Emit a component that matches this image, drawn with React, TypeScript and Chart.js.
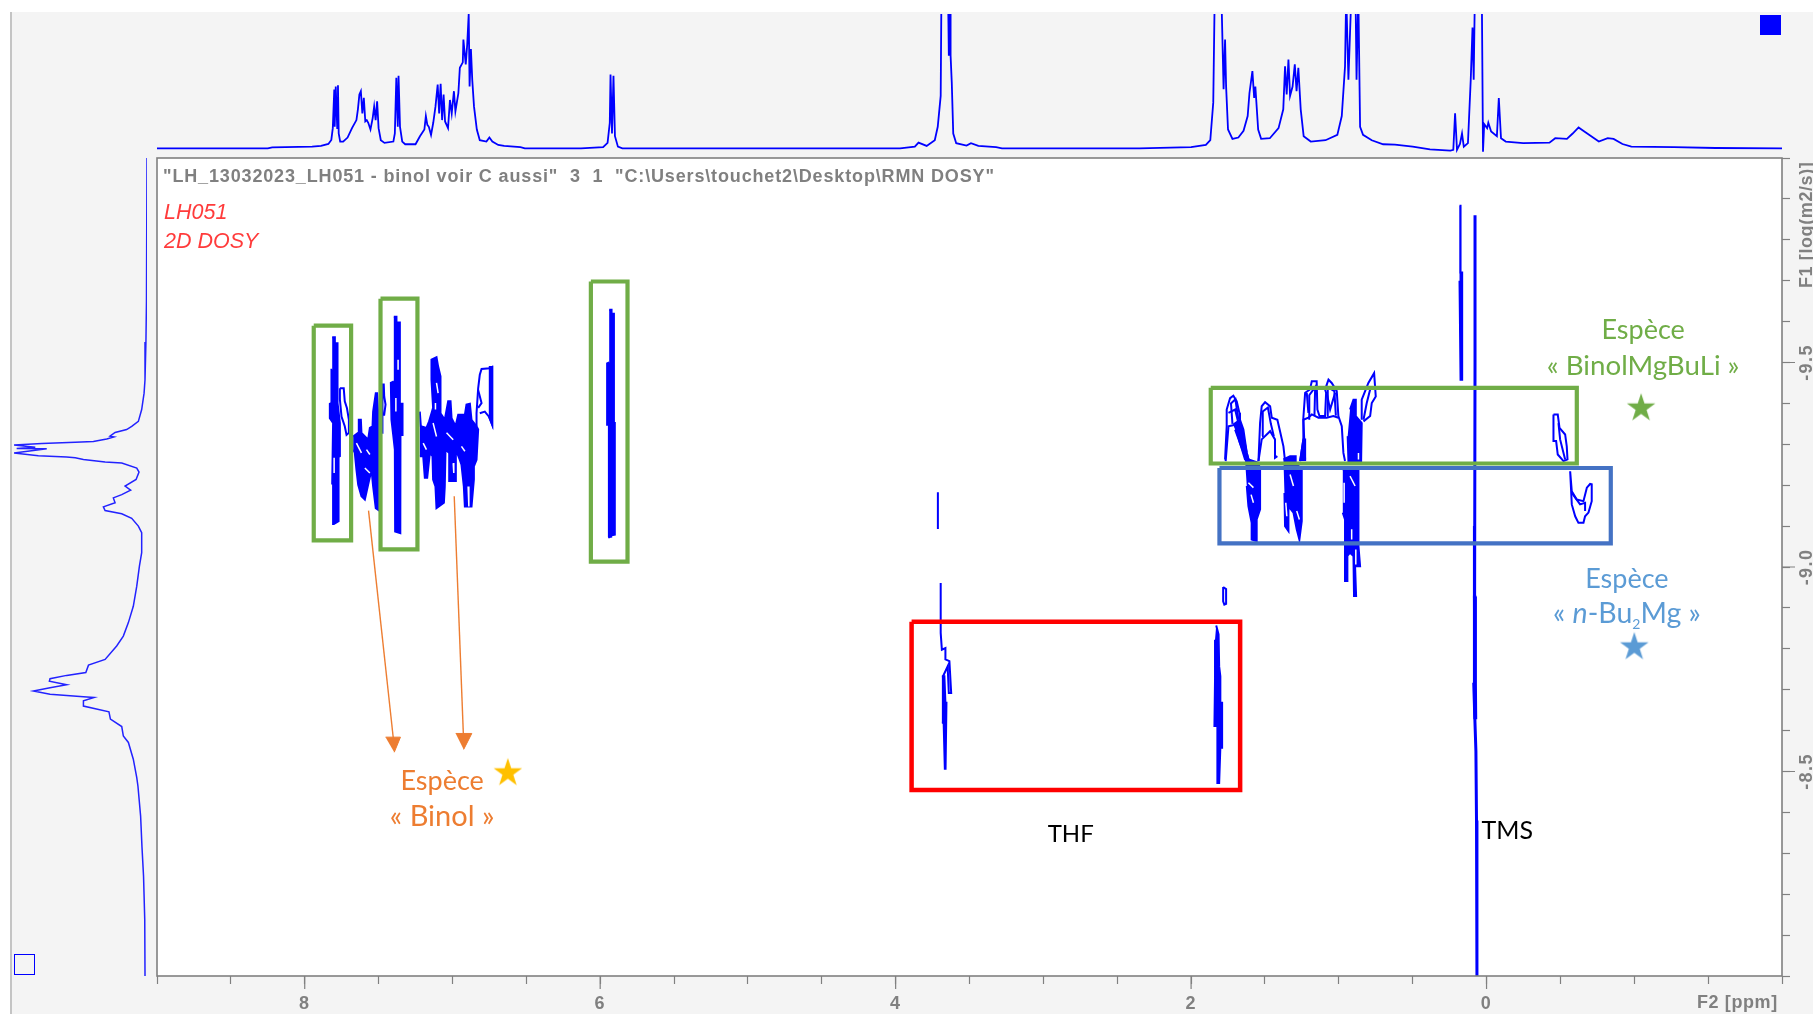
import React, { useEffect, useRef } from "react";
import { Chart, registerables } from "chart.js";

Chart.register(...registerables);

// ---- 1D projection along the top (F2, ppm / relative intensity) ----
const topPpm = [9.0,8.25,8.22,7.95,7.89,7.84,7.82,7.81,7.80,7.797,7.79,7.78,7.775,7.77,7.76,7.74,7.71,7.68,7.65,7.64,7.63,7.62,7.61,7.60,7.59,7.58,7.57,7.555,7.54,7.53,7.52,7.51,7.50,7.485,7.46,7.40,7.39,7.38,7.37,7.365,7.355,7.34,7.32,7.25,7.22,7.19,7.18,7.17,7.16,7.145,7.13,7.115,7.10,7.09,7.08,7.07,7.06,7.05,7.03,7.017,7.005,6.99,6.98,6.96,6.95,6.93,6.926,6.91,6.90,6.89,6.884,6.875,6.866,6.854,6.835,6.815,6.77,6.75,6.73,6.69,6.65,6.54,6.51,6.13,5.98,5.95,5.935,5.93,5.92,5.91,5.90,5.88,5.85,
3.97,3.87,3.845,3.79,3.735,3.715,3.695,3.69,3.645,3.64,3.63,3.628,3.62,3.61,3.59,3.52,3.49,3.44,3.32,3.28,2.35,2.00,1.90,1.87,1.85,1.84,1.795,1.78,1.77,1.763,1.75,1.72,1.68,1.645,1.617,1.605,1.585,1.573,1.565,1.546,1.526,1.467,1.408,1.376,1.364,1.353,1.341,1.33,1.313,1.298,1.286,1.274,1.258,1.238,1.19,1.09,1.01,0.98,0.958,0.95,0.935,0.915,0.887,0.88,0.868,0.856,0.836,0.777,0.70,0.62,0.50,0.383,0.245,0.225,0.213,0.20,0.18,0.166,0.154,0.126,0.107,0.095,0.087,0.079,0.044,0.032,0.024,0.016,-0.004,-0.012,-0.031,-0.07,-0.083,-0.098,-0.13,-0.248,-0.426,-0.465,-0.544,-0.583,-0.623,-0.662,-0.76,-0.82,-0.86,-0.92,-0.98,-1.27,-1.55,-2.0];
const topIntensity = [0,0,0.7,1.2,1.8,3.2,6.2,15,43.8,16,46,15,47,11,5,5,8,15,21,29,40,42.5,26,37.5,20,21,19,14,22.5,31,21,35,15,6,4,5,11,52.5,16,54,16,5,3,3,9,14,24,17.5,16,10,19,31,47.5,26,48,21,40,20,15,36,26,42.5,27.5,41,60,64,81,62.5,77.5,100,46,74,51,31,14,6,5,8,5,2.5,1.8,0.8,0,0,0.8,4,19,55,11,54,9,1.2,0,
0,1.2,4.2,1.8,6,16,39,115,115,69,115,69,49,11,3.8,2,3.8,1.8,0.8,0,0,0.8,2.5,6,34,115,115,44,81,46,14,7,8,13,24,41,57.5,37.5,46,14,7,7.5,15,29,61,40,66,39,46,62.5,42.5,60,29,9,5,6,10,24,61,115,51,115,115,51,115,16,10,6,3,2.8,1.2,-0.8,-1.8,-1.2,26,-1.2,3.2,11,1.2,3.8,51,90,51,115,115,115,-2.5,18,15,19,12.5,9,37.5,7.5,5,3.8,4.2,7.5,7,11,15.5,12.5,5,7.5,7,3.2,1.2,0.8,0.2,0];

// ---- 1D projection along the left (F1, log D / relative intensity) ----
const leftIntensity = [0,0.4,0.8,1.5,2.2,4,6.5,11.5,15.3,24,27.8,24.8,30.3,40.3,54,79,100,84,98,75.4,85.4,100,81.7,60.4,54,47.8,31.5,19,7.7,6,8.2,16.5,12.3,19,25.3,24,32.8,31.5,19,11.5,6.5,4,4,5.7,7.7,10.3,14,17.8,22.8,31.5,44,46,60.4,72.9,73.4,60.4,72.9,85.4,72.9,47.8,39.8,47.8,47.8,28.6,27.5,19,17.8,14,10.3,7.7,6.8,4.8,3.8,2.6,1.7,1.5];
const leftLogD = [-10,-9.65,-9.55,-9.458,-9.425,-9.385,-9.356,-9.344,-9.336,-9.329,-9.32,-9.318,-9.313,-9.307,-9.305,-9.302,-9.298,-9.293,-9.29,-9.289,-9.285,-9.279,-9.272,-9.269,-9.267,-9.263,-9.257,-9.254,-9.242,-9.232,-9.214,-9.198,-9.188,-9.177,-9.169,-9.157,-9.147,-9.138,-9.13,-9.119,-9.1,-9.084,-9.035,-9.002,-8.953,-8.904,-8.864,-8.831,-8.807,-8.774,-8.76,-8.742,-8.735,-8.727,-8.721,-8.712,-8.705,-8.697,-8.689,-8.683,-8.681,-8.673,-8.66,-8.646,-8.628,-8.61,-8.587,-8.571,-8.53,-8.485,-8.464,-8.391,-8.317,-8.244,-8.139,-8];

// ---- 2D contours, [ppm, log D] ----
const peak779 = [[7.814,-9.562],[7.796,-9.562],[7.796,-9.547],[7.778,-9.547],[7.778,-9.401],[7.762,-9.352],[7.762,-9.271],[7.771,-9.269],[7.771,-9.112],[7.803,-9.105],[7.808,-9.204],[7.814,-9.204],[7.808,-9.352],[7.83,-9.364],[7.83,-9.399],[7.819,-9.401],[7.819,-9.482],[7.814,-9.482]];
const peak760 = [[7.672,-9.319],[7.638,-9.328],[7.634,-9.36],[7.62,-9.36],[7.616,-9.328],[7.571,-9.311],[7.559,-9.34],[7.541,-9.344],[7.537,-9.38],[7.519,-9.425],[7.51,-9.425],[7.503,-9.376],[7.503,-9.14],[7.519,-9.144],[7.537,-9.197],[7.548,-9.238],[7.571,-9.201],[7.593,-9.165],[7.616,-9.173],[7.638,-9.201],[7.65,-9.238],[7.661,-9.279],[7.672,-9.287]];
const peak738 = [[7.397,-9.612],[7.379,-9.612],[7.379,-9.598],[7.356,-9.598],[7.356,-9.399],[7.338,-9.399],[7.338,-9.323],[7.352,-9.323],[7.352,-9.254],[7.354,-9.083],[7.388,-9.087],[7.39,-9.287],[7.401,-9.323],[7.413,-9.36],[7.417,-9.45],[7.397,-9.454]];
const peak700 = [[7.221,-9.38],[7.214,-9.344],[7.176,-9.34],[7.158,-9.356],[7.131,-9.389],[7.142,-9.458],[7.142,-9.507],[7.108,-9.513],[7.097,-9.49],[7.081,-9.466],[7.081,-9.376],[7.052,-9.36],[7.029,-9.405],[7.013,-9.405],[7.006,-9.364],[6.979,-9.344],[6.961,-9.372],[6.916,-9.372],[6.905,-9.397],[6.882,-9.399],[6.871,-9.36],[6.837,-9.344],[6.826,-9.336],[6.837,-9.262],[6.855,-9.246],[6.855,-9.214],[6.871,-9.148],[6.916,-9.148],[6.923,-9.197],[6.939,-9.25],[6.95,-9.262],[6.977,-9.287],[6.977,-9.21],[7.018,-9.21],[7.022,-9.279],[7.047,-9.287],[7.052,-9.197],[7.058,-9.157],[7.108,-9.144],[7.115,-9.197],[7.131,-9.214],[7.135,-9.271],[7.153,-9.279],[7.171,-9.218],[7.187,-9.218],[7.198,-9.271],[7.221,-9.271]];
const peak675 = [[6.754,-9.489],[6.731,-9.489],[6.731,-9.348],[6.754,-9.37]];
const peak592 = [[5.939,-9.629],[5.923,-9.629],[5.923,-9.619],[5.907,-9.619],[5.907,-9.352],[5.901,-9.352],[5.901,-9.079],[5.916,-9.078],[5.923,-9.222],[5.93,-9.222],[5.925,-9.074],[5.946,-9.073],[5.941,-9.348],[5.953,-9.348],[5.953,-9.498],[5.939,-9.5]];
const butylAUpper = [[1.714,-9.348],[1.669,-9.36],[1.646,-9.336],[1.623,-9.279],[1.605,-9.255],[1.635,-9.263],[1.669,-9.303],[1.702,-9.336]];
const butylALower = [[1.635,-9.263],[1.605,-9.262],[1.544,-9.255],[1.533,-9.238],[1.533,-9.141],[1.556,-9.116],[1.556,-9.063],[1.59,-9.067],[1.59,-9.108],[1.612,-9.149],[1.623,-9.198]];
const butylBLower = [[1.375,-9.263],[1.33,-9.271],[1.292,-9.271],[1.292,-9.255],[1.251,-9.238],[1.251,-9.112],[1.267,-9.067],[1.285,-9.092],[1.307,-9.133],[1.341,-9.149],[1.341,-9.088],[1.364,-9.1],[1.368,-9.181]];
const butylCStrip = [[1.262,-9.259],[1.24,-9.312],[1.228,-9.312],[1.228,-9.259]];
const butylDUpper = [[0.924,-9.385],[0.901,-9.409],[0.885,-9.409],[0.885,-9.369],[0.845,-9.352],[0.849,-9.259],[0.935,-9.259],[0.94,-9.32]];
const butylDLower = [[0.973,-9.238],[0.867,-9.238],[0.867,-9.051],[0.856,-9.002],[0.89,-9.002],[0.883,-8.929],[0.897,-8.929],[0.901,-9.027],[0.924,-9.035],[0.942,-9.027],[0.942,-8.966],[0.958,-8.966],[0.958,-9.116],[0.973,-9.133]];
const thf37Lower = [[3.687,-8.733],[3.67,-8.733],[3.663,-8.668],[3.656,-8.668],[3.662,-8.507],[3.667,-8.507],[3.675,-8.619],[3.687,-8.619]];
const thf18 = [[1.83,-8.857],[1.814,-8.835],[1.81,-8.757],[1.802,-8.733],[1.802,-8.668],[1.79,-8.668],[1.79,-8.558],[1.802,-8.558],[1.81,-8.472],[1.822,-8.472],[1.822,-8.611],[1.842,-8.611],[1.838,-8.725],[1.838,-8.822]];
const tmsUpper = [[0.183,-9.883],[0.176,-9.883],[0.176,-9.72],[0.165,-9.72],[0.165,-9.458],[0.176,-9.458],[0.183,-9.7]];
const tmsBroad = [[0.092,-8.928],[0.076,-8.928],[0.072,-8.717],[0.07,-8.63],[0.082,-8.63],[0.09,-8.717]];
const filledContours = [peak779,peak760,peak738,peak700,peak675,peak592,butylAUpper,butylALower,butylBLower,butylCStrip,butylDUpper,butylDLower,thf37Lower,thf18,tmsUpper,tmsBroad];

const loop779 = [[7.762,-9.437],[7.736,-9.437],[7.729,-9.405],[7.714,-9.388],[7.701,-9.36],[7.701,-9.328],[7.717,-9.323],[7.729,-9.344],[7.751,-9.368],[7.762,-9.41],[7.762,-9.437]];
const loop748 = [[7.476,-9.328],[7.474,-9.446],[7.465,-9.446],[7.462,-9.417],[7.453,-9.397],[7.462,-9.372],[7.476,-9.372]];
const loop680 = [[6.837,-9.344],[6.837,-9.376],[6.826,-9.437],[6.815,-9.47],[6.803,-9.484],[6.747,-9.486],[6.731,-9.489],[6.731,-9.348],[6.754,-9.368],[6.781,-9.38],[6.815,-9.376]];
const loop682 = [[6.826,-9.433],[6.803,-9.401],[6.826,-9.389]];
const butylAOuter = [[1.77,-9.263],[1.759,-9.344],[1.759,-9.385],[1.736,-9.413],[1.714,-9.419],[1.691,-9.405],[1.673,-9.377],[1.669,-9.344],[1.646,-9.32],[1.623,-9.279],[1.605,-9.255]];
const butylAInner = [[1.766,-9.259],[1.747,-9.344],[1.702,-9.348],[1.669,-9.303],[1.635,-9.271]];
const butylAInner2 = [[1.747,-9.377],[1.702,-9.385],[1.68,-9.352]];
const butylAInner3 = [[1.72,-9.35],[1.73,-9.40],[1.70,-9.41],[1.68,-9.36]];
const butylBOuter = [[1.544,-9.259],[1.533,-9.352],[1.522,-9.393],[1.499,-9.403],[1.465,-9.393],[1.454,-9.365],[1.416,-9.36],[1.398,-9.332],[1.375,-9.295],[1.364,-9.259]];
const butylBInner = [[1.544,-9.259],[1.522,-9.312],[1.465,-9.332],[1.432,-9.312],[1.432,-9.267],[1.416,-9.271]];
const butylBInner2 = [[1.52,-9.32],[1.515,-9.38],[1.48,-9.39],[1.46,-9.35],[1.44,-9.32]];
const butylCOuter = [[1.262,-9.259],[1.24,-9.312],[1.24,-9.365],[1.228,-9.426],[1.195,-9.434],[1.183,-9.454],[1.15,-9.454],[1.145,-9.385],[1.131,-9.369],[1.093,-9.369],[1.086,-9.426],[1.093,-9.434],[1.07,-9.458],[1.048,-9.45],[1.014,-9.43],[1.003,-9.369],[0.98,-9.344],[0.969,-9.279],[0.958,-9.259]];
const butylCInner = [[1.228,-9.263],[1.24,-9.36],[1.206,-9.365],[1.183,-9.373],[1.138,-9.365],[1.082,-9.365],[1.037,-9.369],[1.003,-9.365]];
const butylCLobe1 = [[1.217,-9.426],[1.206,-9.377]];
const butylCLobe2 = [[1.082,-9.426],[1.059,-9.385],[1.025,-9.426]];
const butylCLobe3 = [[1.2,-9.36],[1.2,-9.42],[1.16,-9.44],[1.165,-9.37]];
const butylCLobe4 = [[1.08,-9.37],[1.075,-9.44],[1.03,-9.43],[1.02,-9.37]];
const butylDOuter = [[0.845,-9.36],[0.845,-9.409],[0.822,-9.43],[0.8,-9.45],[0.761,-9.474],[0.75,-9.417],[0.777,-9.401],[0.788,-9.369],[0.833,-9.356]];
const butylDInner = [[0.833,-9.36],[0.811,-9.401],[0.788,-9.434]];
const methylA = [[-0.453,-9.373],[-0.482,-9.373],[-0.494,-9.34],[-0.532,-9.324],[-0.543,-9.295],[-0.548,-9.263],[-0.521,-9.259],[-0.482,-9.275],[-0.471,-9.308],[-0.453,-9.308],[-0.453,-9.373]];
const methylAInner = [[-0.487,-9.352],[-0.498,-9.312],[-0.532,-9.263]];
const methylB = [[-0.566,-9.234],[-0.577,-9.185],[-0.611,-9.165],[-0.656,-9.161],[-0.679,-9.194],[-0.701,-9.203],[-0.712,-9.202],[-0.712,-9.161],[-0.69,-9.133],[-0.667,-9.124],[-0.656,-9.108],[-0.622,-9.108],[-0.6,-9.124],[-0.577,-9.153],[-0.566,-9.234]];
const methylBInner = [[-0.577,-9.181],[-0.633,-9.153],[-0.667,-9.157],[-0.667,-9.137]];
const thf37Upper = [[3.695,-8.961],[3.695,-8.839],[3.687,-8.798],[3.663,-8.802],[3.663,-8.774],[3.636,-8.77],[3.624,-8.692],[3.64,-8.692],[3.648,-8.757],[3.679,-8.733]];
const thf37Isolated = [[3.714,-9.183],[3.714,-9.093]];
const thf18Loop = [[1.783,-8.951],[1.763,-8.946],[1.763,-8.91],[1.775,-8.908],[1.783,-8.916],[1.783,-8.951]];
const openContours = [loop779,loop748,loop680,loop682,butylAOuter,butylAInner,butylAInner2,butylAInner3,butylBOuter,butylBInner,butylBInner2,butylCOuter,butylCInner,butylCLobe1,butylCLobe2,butylCLobe3,butylCLobe4,butylDOuter,butylDInner,methylA,methylAInner,methylB,methylBInner,thf37Upper,thf37Isolated,thf18Loop];
const tmsLine = [[0.078,-9.86],[0.078,-9.5],[0.08,-9.1],[0.082,-8.96],[0.084,-8.84],[0.08,-8.66],[0.072,-8.55],[0.068,-8.38],[0.065,-8.0]];

const contourHoles = [
  [[7.65,-9.303],[7.616,-9.279]],[[7.582,-9.287],[7.559,-9.275]],[[7.593,-9.242],[7.559,-9.23]],
  [[7.198,-9.303],[7.176,-9.287]],[[7.131,-9.352],[7.108,-9.319]],[[7.04,-9.328],[6.995,-9.311]],
  [[6.939,-9.295],[6.916,-9.283]],[[6.995,-9.254],[6.991,-9.23]],[[6.894,-9.197],[6.889,-9.148]],
  [[7.108,-9.45],[7.097,-9.425]],[[7.115,-9.401],[7.115,-9.385]],[[7.368,-9.507],[7.368,-9.482]],
  [[7.383,-9.413],[7.383,-9.38]],[[7.801,-9.267],[7.801,-9.23]],
  [[1.612,-9.206],[1.578,-9.194]],[[1.594,-9.177],[1.578,-9.157]],[[1.33,-9.226],[1.307,-9.198]],
  [[1.359,-9.157],[1.352,-9.124]],[[1.285,-9.137],[1.267,-9.116]],[[0.964,-9.206],[0.964,-9.157]],
  [[0.924,-9.222],[0.89,-9.198]],[[0.913,-9.092],[0.913,-9.067]],[[0.885,-9.043],[0.885,-9.006]],
  [[0.867,-9.279],[0.867,-9.263]],
];

// ---- Annotation frames: [ppmLeft, ppmRight, logDTop, logDBottom] ----
const greenFrames = [[7.939,7.686,-9.59,-9.065],[7.487,7.237,-9.656,-9.043],[6.063,5.815,-9.698,-9.013],[1.867,-0.611,-9.438,-9.253]];
const blueFrames = [[1.808,-0.841,-9.242,-9.058]];
const redFrames = [[3.892,1.668,-8.866,-8.455]];

const arrowShafts = [[[7.568,-9.138],[7.394,-8.56]],[[6.988,-9.173],[6.924,-8.57]]];
const arrowHeads = [[[7.453,-8.584],[7.352,-8.584],[7.394,-8.547]],[[6.978,-8.593],[6.869,-8.593],[6.924,-8.554]]];

const goldStar = [[6.625,-8.5]];
const greenStar = [[-1.046,-9.392]];
const blueStar = [[-1.0,-8.808]];

const yLabels = ["-9.5", "-9.0", "-8.5"];
const xLabels = ["8", "6", "4", "2", "0"];

const BLUE = "#0000FF";
const GREY = "#808080";
const GREEN = "#70AD47";
const ORANGE = "#ED7D31";
const SKY = "#5B9BD5";
const UI_FONT = '"Liberation Sans", Arial, sans-serif';
const NOTE_FONT = 'Lato, "Noto Sans", sans-serif';

const pts = (pairs: number[][]) => pairs.map(([x, y]) => ({ x, y }));
const frame = ([l, r, t, b]: number[]) =>
  pts([[l, t], [r, t], [r, b], [l, b], [l, t]]);

function starCanvas(color: string, size: number) {
  const c = document.createElement("canvas");
  c.width = size;
  c.height = size;
  const g = c.getContext("2d")!;
  const R = size / 2;
  g.fillStyle = color;
  g.beginPath();
  for (let i = 0; i < 10; i++) {
    const r = i % 2 === 0 ? R : R * 0.382;
    const a = -Math.PI / 2 + (i * Math.PI) / 5;
    const px = R + r * Math.cos(a);
    const py = R + 1.5 + r * Math.sin(a);
    if (i === 0) g.moveTo(px, py);
    else g.lineTo(px, py);
  }
  g.closePath();
  g.fill();
  return c;
}

const lineSet = (data: any[], color: string, width: number, extra: any = {}) => ({
  data,
  showLine: true,
  borderColor: color,
  borderWidth: width,
  pointRadius: 0,
  tension: 0,
  fill: false,
  ...extra,
});

const drawNote = (
  chart: any,
  text: string,
  ppm: number,
  logD: number,
  color: string,
  size: number
) => {
  const g = chart.ctx;
  g.font = `${size}px ${NOTE_FONT}`;
  g.fillStyle = color;
  g.textAlign = "center";
  g.textBaseline = "middle";
  g.fillText(text, chart.scales.x.getPixelForValue(ppm), chart.scales.y.getPixelForValue(logD));
};

const frameAndTextPlugin = {
  id: "frameAndText",
  beforeDraw(chart: any) {
    chart.ctx.letterSpacing = "1.4px";
  },
  beforeDatasetsDraw(chart: any) {
    const g = chart.ctx;
    const a = chart.chartArea;
    g.letterSpacing = "0px";
    g.save();
    g.fillStyle = "#FFFFFF";
    g.fillRect(a.left, a.top, a.right - a.left, a.bottom - a.top);
    g.restore();
  },
  afterDraw(chart: any) {
    const g = chart.ctx;
    const a = chart.chartArea;
    const sx = chart.scales.x;
    const sy = chart.scales.y;
    g.save();
    g.strokeStyle = GREY;
    g.lineWidth = 1.6;
    g.strokeRect(a.left, a.top, a.right - a.left, a.bottom - a.top);
    // longer tick marks at the labelled values
    g.lineWidth = 1.2;
    g.beginPath();
    sx.ticks.forEach((t: any) => {
      if (t.label !== "") {
        const p = sx.getPixelForValue(t.value);
        g.moveTo(p, a.bottom);
        g.lineTo(p, a.bottom + 13);
      }
    });
    sy.ticks.forEach((t: any) => {
      if (t.label !== "") {
        const p = sy.getPixelForValue(t.value);
        g.moveTo(a.right, p);
        g.lineTo(a.right + 13, p);
      }
    });
    g.stroke();

    // axis titles
    g.fillStyle = GREY;
    g.font = `bold 18px ${UI_FONT}`;
    g.textBaseline = "middle";
    g.textAlign = "left";
    g.letterSpacing = "0.6px";
    g.fillText("F2 [ppm]", 1697, 1003);
    g.save();
    g.translate(1807, 288);
    g.rotate(-Math.PI / 2);
    g.fillText("F1 [log(m2/s)]", 0, 0);
    g.restore();

    // spectrum caption
    g.letterSpacing = "0.85px";
    g.font = `bold 18px ${UI_FONT}`;
    g.fillText('"LH_13032023_LH051 - binol voir C aussi"  3  1  "C:\\Users\\touchet2\\Desktop\\RMN DOSY"', 163, 177);
    g.letterSpacing = "0px";
    g.fillStyle = "#FF3B3B";
    g.font = `italic 21.5px ${UI_FONT}`;
    g.fillText("LH051", 164, 213);
    g.fillText("2D DOSY", 164, 242);

    // annotations
    drawNote(chart, "Espèce", 7.07, -8.476, ORANGE, 27);
    drawNote(chart, "« Binol »", 7.07, -8.39, ORANGE, 29);
    drawNote(chart, "THF", 2.815, -8.347, "#000000", 24);
    drawNote(chart, "TMS", -0.14, -8.354, "#000000", 25);
    drawNote(chart, "Espèce", -1.06, -9.579, GREEN, 27);
    drawNote(chart, "« BinolMgBuLi »", -1.06, -9.491, GREEN, 27.7);
    drawNote(chart, "Espèce", -0.95, -8.971, SKY, 27);

    // « n-Bu2Mg » with an italic n and a subscript 2
    const parts: [string, string, number][] = [
      ["« ", `28.5px ${NOTE_FONT}`, 0],
      ["n", `italic 28.5px ${NOTE_FONT}`, 0],
      ["-Bu", `28.5px ${NOTE_FONT}`, 0],
      ["2", `14px ${NOTE_FONT}`, 6],
      ["Mg »", `28.5px ${NOTE_FONT}`, 0],
    ];
    let total = 0;
    parts.forEach(([t, f]) => {
      g.font = f;
      total += g.measureText(t).width;
    });
    let cursor = sx.getPixelForValue(-0.95) - total / 2;
    const base = sy.getPixelForValue(-8.886);
    g.fillStyle = SKY;
    g.textAlign = "left";
    g.textBaseline = "alphabetic";
    parts.forEach(([t, f, dy]) => {
      g.font = f;
      g.fillText(t, cursor, base + 9 + dy);
      cursor += g.measureText(t).width;
    });
    g.restore();
  },
};

export default function App() {
  const mainRef = useRef<HTMLCanvasElement>(null);
  const topRef = useRef<HTMLCanvasElement>(null);
  const leftRef = useRef<HTMLCanvasElement>(null);

  useEffect(() => {
    const painted: any[] = [];
    filledContours.forEach((c) =>
      painted.push(lineSet(pts(c), BLUE, 2, { fill: "shape", backgroundColor: BLUE }))
    );
    openContours.forEach((c) => painted.push(lineSet(pts(c), BLUE, 2)));
    painted.push(lineSet(pts(tmsLine), BLUE, 3));
    contourHoles.forEach((c) => painted.push(lineSet(pts(c), "#FFFFFF", 1.5)));
    greenFrames.forEach((f) => painted.push(lineSet(frame(f), GREEN, 4.2)));
    blueFrames.forEach((f) => painted.push(lineSet(frame(f), "#4472C4", 4.2)));
    redFrames.forEach((f) => painted.push(lineSet(frame(f), "#FF0000", 4.5)));
    arrowShafts.forEach((c) => painted.push(lineSet(pts(c), ORANGE, 1.4)));
    arrowHeads.forEach((c) =>
      painted.push(lineSet(pts(c), ORANGE, 1, { fill: "shape", backgroundColor: ORANGE }))
    );
    const star = (data: number[][], color: string) => ({
      data: pts(data),
      showLine: false,
      pointStyle: starCanvas(color, 30),
      pointRadius: 15,
    });
    painted.push(star(goldStar, "#FFC000"));
    painted.push(star(greenStar, GREEN));
    painted.push(star(blueStar, SKY));

    const main = new Chart(mainRef.current!, {
      type: "scatter",
      data: { datasets: painted.reverse() },
      plugins: [frameAndTextPlugin],
      options: {
        animation: false,
        responsive: false,
        events: [],
        layout: { padding: { left: 157, top: 158, right: 0, bottom: 0 } },
        plugins: { legend: { display: false }, tooltip: { enabled: false } },
        scales: {
          x: {
            type: "linear",
            position: "bottom",
            reverse: true,
            min: -2,
            max: 9,
            afterFit: (s: any) => {
              s.height = 38;
            },
            border: { display: false },
            grid: { drawOnChartArea: false, drawTicks: true, tickLength: 8, tickColor: GREY, tickWidth: 1.2 },
            ticks: {
              stepSize: 0.5,
              autoSkip: false,
              maxRotation: 0,
              padding: 9,
              color: GREY,
              font: { family: UI_FONT, weight: "bold", size: 18 },
              callback: (v: any) => (xLabels.includes(String(v)) ? String(v) : ""),
            },
          },
          y: {
            type: "linear",
            position: "right",
            reverse: true,
            min: -10,
            max: -8,
            afterFit: (s: any) => {
              s.width = 31;
            },
            border: { display: false },
            grid: { drawOnChartArea: false, drawTicks: true, tickLength: 8, tickColor: GREY, tickWidth: 1.2 },
            ticks: {
              stepSize: 0.1,
              autoSkip: false,
              minRotation: 90,
              maxRotation: 90,
              crossAlign: "center",
              padding: 1.5,
              color: GREY,
              font: { family: UI_FONT, weight: "bold", size: 18 },
              callback: (v: any) => {
                const s = (Math.round(v * 10) / 10).toFixed(1);
                return yLabels.includes(s) ? s : "";
              },
            },
          },
        },
      } as any,
    } as any);

    const top = new Chart(topRef.current!, {
      type: "scatter",
      data: {
        datasets: [lineSet(topPpm.map((x, i) => ({ x, y: topIntensity[i] })), BLUE, 1.8)],
      },
      options: {
        animation: false,
        responsive: false,
        events: [],
        plugins: { legend: { display: false }, tooltip: { enabled: false } },
        scales: {
          x: { type: "linear", reverse: true, min: -2, max: 9, display: false },
          y: { type: "linear", min: -5, max: 100, display: false },
        },
      } as any,
    } as any);

    const left = new Chart(leftRef.current!, {
      type: "scatter",
      data: {
        datasets: [lineSet(leftIntensity.map((x, i) => ({ x, y: leftLogD[i] })), "#2222FF", 1.5, { clip: false })],
      },
      options: {
        animation: false,
        responsive: false,
        events: [],
        plugins: { legend: { display: false }, tooltip: { enabled: false } },
        scales: {
          x: { type: "linear", reverse: true, min: 0, max: 100, display: false },
          y: { type: "linear", reverse: true, min: -10, max: -8, display: false },
        },
      } as any,
    } as any);

    return () => {
      main.destroy();
      top.destroy();
      left.destroy();
    };
  }, []);

  const abs = (l: number, t: number): React.CSSProperties => ({ position: "absolute", left: l, top: t });

  return (
    <div style={{ position: "absolute", left: 0, top: 0, width: 1813, height: 1014, overflow: "hidden", background: "#FFFFFF" }}>
      <div style={{ ...abs(10, 12), width: 1803, height: 1002, background: "#F4F4F4", borderLeft: "2px solid #C4C4C4", boxSizing: "border-box" }} />
      <canvas ref={mainRef} width={1813} height={1014} style={abs(0, 0)} />
      <canvas ref={topRef} width={1625} height={141} style={abs(157, 14)} />
      <canvas ref={leftRef} width={133} height={818} style={abs(14, 158)} />
      <div style={{ ...abs(1760, 15), width: 21, height: 20, background: BLUE }} />
      <div style={{ ...abs(14, 954), width: 21, height: 21, border: `1.5px solid ${BLUE}`, boxSizing: "border-box" }} />
    </div>
  );
}
